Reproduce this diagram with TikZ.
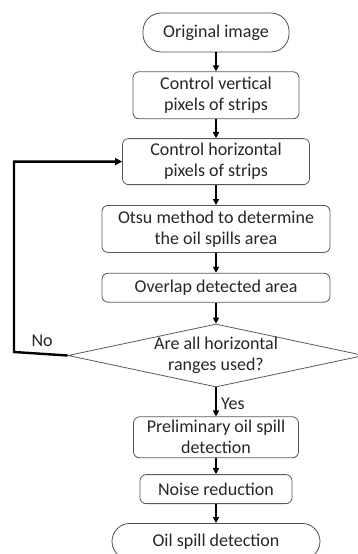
\documentclass[tikz,border=0pt]{standalone}
\usepackage{fontspec}
\setmainfont{Carlito}
\usepackage{tikz}
\usetikzlibrary{shapes.geometric, arrows.meta, positioning}

\begin{document}
\begin{tikzpicture}[
    x=1pt, y=1pt,
    every node/.style={
        text centered,
        align=center,
        font=\fontsize{18}{21}\selectfont,
        text=black!85
    },
    process/.style={draw=black!65, line width=0.8pt, rectangle, rounded corners=6pt, inner sep=0pt},
    terminal/.style={draw=black!70, line width=0.8pt, rectangle, rounded corners=18pt, inner sep=0pt},
    decision/.style={draw=black!65, line width=0.8pt, diamond, aspect=4.7, inner sep=-6pt, minimum width=296pt, minimum height=63pt},
    flow/.style={-{Triangle[length=6pt,width=6pt]}, line width=1.6pt, black},
    loopback/.style={-{Triangle[length=7pt,width=7pt]}, line width=2.4pt, black}
]
\useasboundingbox (0,0) rectangle (357,-554);

\node[terminal, minimum width=146pt, minimum height=39pt] (orig) at (216,-32.5) {Original image};
\node[process, minimum width=166pt, minimum height=47pt, below=19pt of orig] (vert) {Control vertical\\pixels of strips};
\node[process, minimum width=187pt, minimum height=46pt, below=19pt of vert] (horiz) {Control horizontal\\pixels of strips};
\node[process, minimum width=228pt, minimum height=47pt, below=20pt of horiz] (otsu) {Otsu method to determine\\the oil spills area};
\node[process, minimum width=228pt, minimum height=29pt, below=20pt of otsu] (overlap) {Overlap detected area};
\node[decision, below=21pt of overlap] (ranges) {Are all horizontal\\ranges used?};
\node[process, minimum width=165pt, minimum height=41pt, below=29pt of ranges] (prelim) {Preliminary oil spill\\detection};
\node[process, minimum width=152pt, minimum height=29pt, below=16pt of prelim] (noise) {Noise reduction};
\node[terminal, minimum width=208pt, minimum height=36pt, below=19pt of noise] (final) {Oil spill detection};

\coordinate (corner) at (14,-352);

\draw[flow] (orig) -- (vert);
\draw[flow] (vert) -- (horiz);
\draw[flow] (horiz) -- (otsu);
\draw[flow] (otsu) -- (overlap);
\draw[flow] (overlap) -- (ranges);
\draw[flow] (ranges) -- node[right=1pt, pos=0.55] (yes) {Yes} (prelim);
\draw[flow] (prelim) -- (noise);
\draw[flow] (noise) -- (final);

% No branch back to the horizontal strips
\draw[loopback] (ranges.west) -- (corner) |- (horiz.west);
\node[above right=2pt and 14pt of corner] (no) {No};

\end{tikzpicture}
\end{document}
